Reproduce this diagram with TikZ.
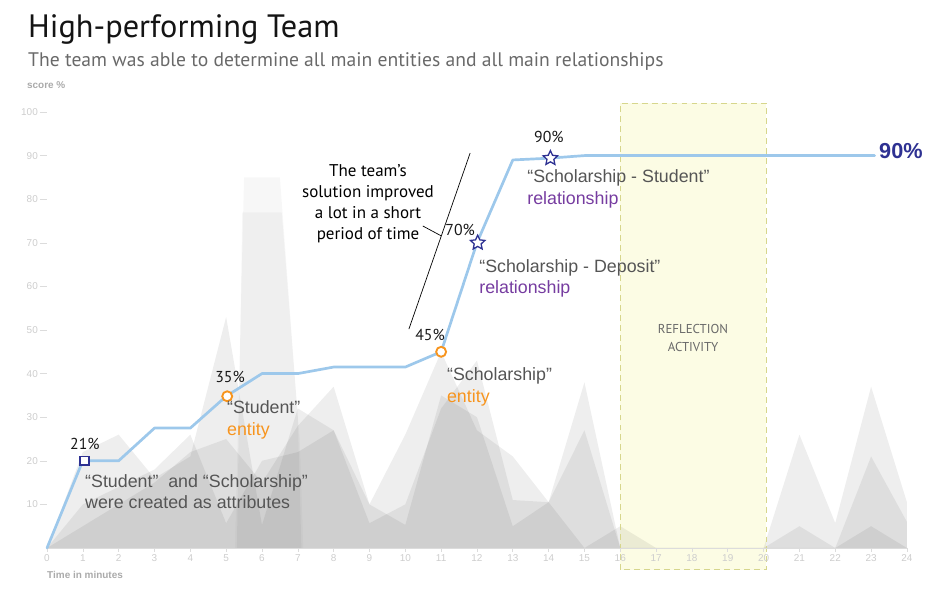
\documentclass[tikz,border=0pt]{standalone}
\usepackage{fontspec}
\setmainfont{PT Sans}
\newfontfamily\helv{Liberation Sans}
\usetikzlibrary{shapes.geometric}

\definecolor{scoreblue}{RGB}{157,200,235}
\definecolor{marknavy}{RGB}{46,49,146}
\definecolor{markorange}{RGB}{247,148,29}
\definecolor{relpurple}{RGB}{118,60,160}
\definecolor{notegrey}{RGB}{85,85,85}
\definecolor{subgrey}{RGB}{105,105,105}
\definecolor{axisgrey}{RGB}{205,205,205}
\definecolor{labelgrey}{RGB}{170,170,170}
\definecolor{reflectfill}{RGB}{252,252,228}
\definecolor{reflectline}{RGB}{214,214,140}

\begin{document}
\begin{tikzpicture}[x=1.0749cm, y=0.1308cm,
        grey_area/.style={fill=black, fill opacity=0.065},
        spike_area/.style={fill=black, fill opacity=0.03},
        score_line/.style={draw=scoreblue, line width=2.3pt, line join=round, line cap=round},
        sq_mark/.style={rectangle, draw=marknavy, fill=white, line width=1.3pt, minimum size=7.5pt, inner sep=0pt},
        dot_mark/.style={circle, draw=markorange, fill=white, line width=1.6pt, minimum size=8.5pt, inner sep=0pt},
        star_mark/.style={star, star points=5, star point ratio=2.1, draw=marknavy, fill=white, line width=1.1pt, minimum size=13pt, inner sep=0pt},
        pct/.style={font=\fontsize{13.5}{16}\selectfont, text=black!90, inner sep=0pt},
        note/.style={font=\helv\fontsize{15.2}{18.7}\selectfont, text=notegrey, align=left, anchor=north west, inner sep=0pt},
        ytick/.style={font=\helv\fontsize{8.5}{10}\selectfont, text=axisgrey, anchor=east, inner sep=0pt},
        xtick/.style={font=\helv\fontsize{8.5}{10}\selectfont, text=axisgrey, inner sep=0pt},
        axis_label/.style={font=\helv\bfseries\fontsize{8.5}{10}\selectfont, text=labelgrey, inner sep=0pt},
        tick_line/.style={draw=axisgrey!70, line width=0.5pt},
        leader/.style={draw=black, line width=0.6pt}
    ]
        \useasboundingbox (-1.3117,-10.55) rectangle (25.035,125.69);

        % reflection period
        \fill[reflectfill] (16,-5) rectangle (20.07,102);

        % individual scores
        \fill[spike_area] (5.25,0) -- (5.5,85) -- (6.5,85) -- (7.0,30) -- (7.1,0) -- cycle;
        \fill[spike_area] (5.3,0) -- (5.45,77) -- (6.55,77) -- (7.05,25) -- (7.15,0) -- cycle;
        \fill[grey_area] plot coordinates {(0,0) (1,22) (2,26) (3,16) (4,21) (5,53) (6,5.3) (7,32) (8,27) (9,10) (10,26) (11,45) (12,27) (13,21) (14,10.5) (15,38) (16,0) (20,0) (21,26) (22,5.7) (23,37) (24,10.5) (24,0)} -- cycle;
        \fill[grey_area] plot coordinates {(0,0) (1,10) (2,14) (3,18) (4,26) (5,5.7) (6,20) (7,22) (8,27) (9,5.7) (10,10) (11,32) (12,43) (13,11) (14,10.5) (15,27) (16,0) (20,0) (21,5) (22,0) (23,21) (24,6) (24,0)} -- cycle;
        \fill[grey_area] plot coordinates {(0,0) (1,5) (2,10) (3,15) (4,22) (5,25) (6,15) (7,28) (8,37) (9,10) (10,5.3) (11,35) (12,30) (13,5) (14,10.5) (15,0) (16,5) (17,0) (22,0) (23,5) (24,0)} -- cycle;

        \draw[reflectline, line width=0.8pt, dash pattern=on 5pt off 3.5pt] (16,-5) rectangle (20.07,102);
        \node[font=\fontsize{11}{15.3}\selectfont, text=subgrey, align=center] (reflect) at (18.03,48.1) {REFLECTION\\ACTIVITY};

        % axes
        \draw[tick_line] (0,0) -- (24,0);
        \foreach \v in {10,20,...,100} {
            \draw[tick_line] (-0.2,\v) -- (0,\v);
            \node[ytick] (y\v) at (-0.25,\v) {\v};
        }
        \foreach \m in {0,...,24} {
            \draw[tick_line] (\m,0) -- (\m,-0.9);
            \node[xtick] (x\m) at (\m,-2.4) {\m};
        }
        \node[axis_label, anchor=base west] (yname) at (-0.56,105.4) {score \%};
        \node[axis_label, anchor=west] (xname) at (0,-6.2) {Time in minutes};

        % team score
        \draw[score_line] (0,0) -- (1,20) -- (2,20) -- (3,27.5) -- (4,27.5) -- (5,34.8) -- (6,40) -- (7,40) -- (8,41.5) -- (10,41.5) -- (11,45) -- (12,70) -- (13,89) -- (14,89.4) -- (15,90) -- (23.1,90);

        \node[sq_mark] (m21) at (1.05,20) {};
        \node[dot_mark] (m35) at (5.03,34.8) {};
        \node[dot_mark] (m45) at (11,45) {};
        \node[star_mark] (m70) at (12.02,70) {};
        \node[star_mark] (m90) at (14.05,89.4) {};

        \node[pct] (p21) at (1.06,23.9) {21\%};
        \node[pct] (p35) at (5.11,39.2) {35\%};
        \node[pct] (p45) at (10.69,48.9) {45\%};
        \node[pct] (p70) at (11.53,72.9) {70\%};
        \node[pct] (p90) at (14.01,94.3) {90\%};
        \node[font=\helv\bfseries\fontsize{18.5}{20}\selectfont, text=marknavy, anchor=west, inner sep=0pt] (final) at (23.22,91.1) {90\%};

        % notes
        \node[note] (attr) at (1.06,17.0) {“Student”\ \ and “Scholarship”\\were created as attributes};
        \node[note] (student) at (5.02,33.8) {“Student”\\\textcolor{markorange}{entity}};
        \node[note] (scholar) at (11.16,41.5) {“Scholarship”\\\textcolor{markorange}{entity}};
        \node[note] (deposit) at (12.06,66.3) {“Scholarship - Deposit”\\\textcolor{relpurple}{relationship}};
        \node[note] (schstud) at (13.4,86.9) {“Scholarship - Student”\\\textcolor{relpurple}{relationship}};

        \node[font=\fontsize{14.5}{17.9}\selectfont, align=center, anchor=north, inner sep=0pt] (team) at (8.96,88.0) {The team’s\\solution improved\\a lot in a short\\period of time};
        \coordinate (lead_top) at (11.81,90.6);
        \coordinate (lead_bot) at (10.10,50.2);
        \coordinate (lead_from) at (10.49,73.85);
        \coordinate (lead_join) at (11.0,71.6);
        \draw[leader] (lead_top) -- (lead_bot);
        \draw[leader] (lead_from) -- (lead_join);

        % heading
        \node[font=\fontsize{27.6}{32}\selectfont, text=black!92, anchor=base west, inner sep=0pt] (title) at (-0.53,117.2) {High-performing Team};
        \node[font=\fontsize{16.75}{20}\selectfont, text=subgrey, anchor=base west, inner sep=0pt] (subtitle) at (-0.53,110.5) {The team was able to determine all main entities and all main relationships};
    \end{tikzpicture}
\end{document}
